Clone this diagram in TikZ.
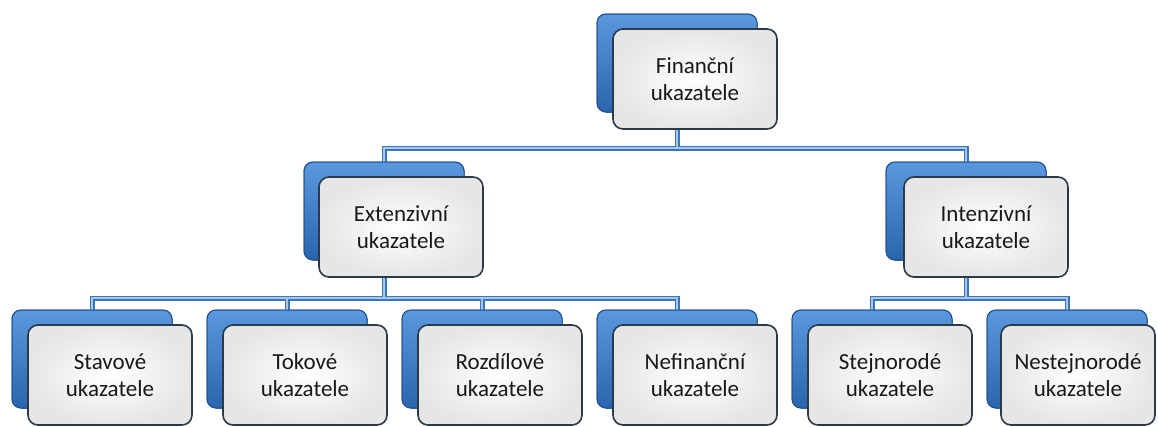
\documentclass[tikz,border=0pt]{standalone}
\usepackage{fontspec}
\setmainfont{Carlito}
\definecolor{backtop}{HTML}{5A98DE}
\definecolor{backbot}{HTML}{2A65AE}
\definecolor{backline}{HTML}{1F4F8E}
\definecolor{frontline}{HTML}{2C3A48}
\definecolor{frontedge}{HTML}{E6E6E6}
\definecolor{linkblue}{HTML}{3A76BC}
\definecolor{linkinner}{HTML}{A9C6E8}
\tikzset{
  backbox/.style={rectangle, rounded corners=9pt, minimum width=160pt, minimum height=98pt,
    draw=backline, line width=1pt, top color=backtop, bottom color=backbot, inner sep=0pt},
  frontbox/.style={rectangle, rounded corners=10pt, minimum width=164pt, minimum height=100pt,
    draw=frontline, line width=1.6pt, inner color=white, outer color=frontedge,
    align=center, inner sep=0pt, font=\fontsize{23pt}{27pt}\selectfont, text=black!90},
  link/.style={draw=linkblue, line width=5pt},
  linkcore/.style={draw=linkinner, line width=1.4pt},
}
\begin{document}
\begin{tikzpicture}[x=1pt, y=-1pt]
  \useasboundingbox (0,0) rectangle (1158,426);
  \clip (0,0) rectangle (1158,426);

  % back (blue) plates
  \node[backbox] (b0) at (677,63)  {};
  \node[backbox] (b1) at (384,211) {};
  \node[backbox] (b2) at (966,211) {};
  \node[backbox] (c1) at (92,359)  {};
  \node[backbox] (c2) at (287,359) {};
  \node[backbox] (c3) at (482,359) {};
  \node[backbox] (c4) at (677,359) {};
  \node[backbox] (c5) at (872,359) {};
  \node[backbox] (c6) at (1067,359) {};

  % bus coordinates of the tree
  \coordinate (bus0) at (677,148);
  \coordinate (bus1) at (384,298);
  \coordinate (bus2) at (966,298);

  % connectors
  \foreach \p/\bus/\kids in {b0/bus0/{b1,b2}, b1/bus1/{c1,c2,c3,c4}, b2/bus2/{c5,c6}} {
    \foreach \k in \kids {
      \path[link] (\p.center) -- (\bus) -| (\k.center);
    }
  }
  \foreach \p/\bus/\kids in {b0/bus0/{b1,b2}, b1/bus1/{c1,c2,c3,c4}, b2/bus2/{c5,c6}} {
    \foreach \k in \kids {
      \path[linkcore] (\p.center) -- (\bus) -| (\k.center);
    }
  }

  % redraw plates on top of connectors
  \foreach \n in {b0,b1,b2,c1,c2,c3,c4,c5,c6} {
    \node[backbox] at (\n.center) {};
  }

  % front (white) cards with labels
  \node[frontbox] (f0) at (695,79)  {Finanční\\ukazatele};
  \node[frontbox] (f1) at (401,227) {Extenzivní\\ukazatele};
  \node[frontbox] (f2) at (986,227) {Intenzivní\\ukazatele};
  \node[frontbox] (g1) at (110,375) {Stavové\\ukazatele};
  \node[frontbox] (g2) at (305,375) {Tokové\\ukazatele};
  \node[frontbox] (g3) at (500,375) {Rozdílové\\ukazatele};
  \node[frontbox] (g4) at (695,375) {Nefinanční\\ukazatele};
  \node[frontbox] (g5) at (890,375) {Stejnorodé\\ukazatele};
  \node[frontbox, minimum width=154pt] (g6) at (1078,375) {Nestejnorodé\\ukazatele};
\end{tikzpicture}
\end{document}
